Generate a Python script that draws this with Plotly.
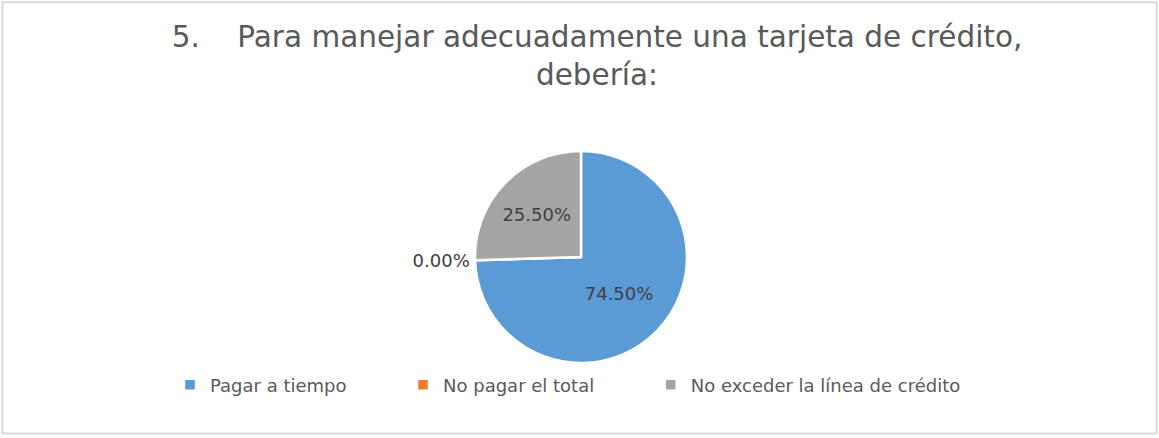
import plotly.graph_objects as go

labels = ["Pagar a tiempo", "No pagar el total", "No exceder la línea de crédito"]
values = [74.5, 0.0, 25.5]
text_labels = ["74.50%", "0.00%", "25.50%"]
colors = ["#5B9BD5", "#ED7D31", "#A5A5A5"]

W, H = 1159, 438
cx, cy, r = 581, 257, 106

pad = "\u00a0" * 9
legend_names = [labels[0] + pad, labels[1] + pad, labels[2]]

fig = go.Figure(go.Pie(
    labels=legend_names,
    values=values,
    text=text_labels,
    textinfo="text",
    hovertext=labels,
    hoverinfo="text+percent",
    textposition=["inside", "outside", "inside"],
    insidetextorientation="horizontal",
    sort=False,
    direction="clockwise",
    rotation=0,
    marker=dict(colors=colors, line=dict(color="#FFFFFF", width=2.5)),
    textfont=dict(family="DejaVu Sans", size=18, color="#404040"),
    outsidetextfont=dict(family="DejaVu Sans", size=18, color="#404040"),
    domain=dict(x=[(cx - r) / W, (cx + r) / W], y=[(H - cy - r) / H, (H - cy + r) / H]),
    showlegend=True,
))

fig.update_layout(
    width=W, height=H,
    margin=dict(l=0, r=0, t=0, b=0),
    paper_bgcolor="#FFFFFF",
    title=dict(
        text="5.    Para manejar adecuadamente una tarjeta de crédito,<br>debería:",
        x=597 / W, xanchor="center", xref="container",
        y=1 - 47 / H, yanchor="top", yref="container",
        font=dict(family="DejaVu Sans", size=29.5, color="#595959"),
    ),
    legend=dict(
        orientation="h", x=568 / W, xanchor="center", y=1 - 385 / H, yanchor="middle",
        font=dict(family="DejaVu Sans", size=18, color="#595959"),
        itemwidth=30,
        itemclick=False,
    ),
    shapes=[dict(type="rect", xref="paper", yref="paper", x0=0.002, x1=0.998, y0=0.01, y1=0.995,
                 line=dict(color="#D9D9D9", width=2), fillcolor="rgba(0,0,0,0)")],
)

fig.write_html("out.html", config={"displayModeBar": False},
               post_script="document.body.style.margin='0';")
